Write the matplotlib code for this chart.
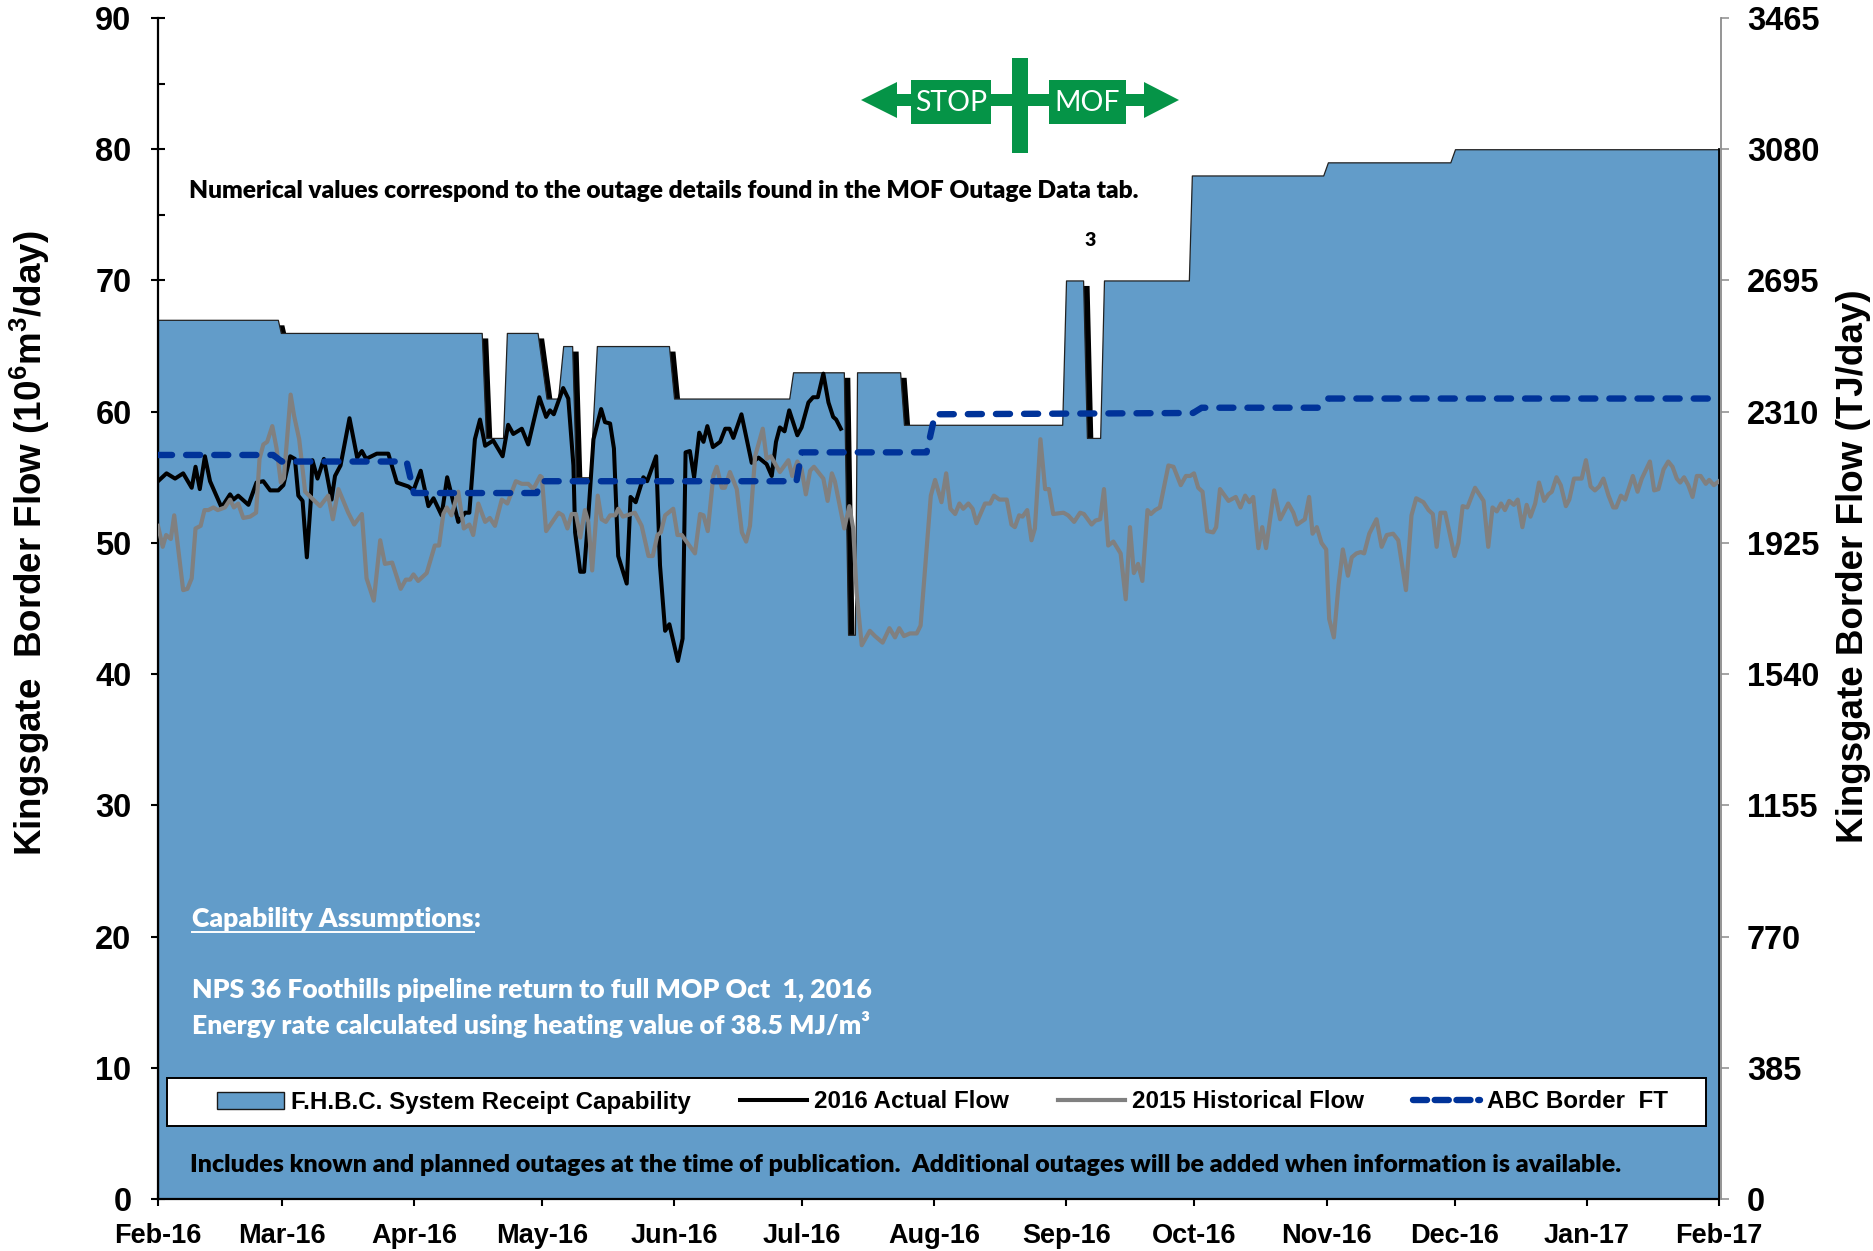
import matplotlib
matplotlib.use("Agg")
import matplotlib.pyplot as plt
import pandas as pd
from matplotlib.lines import Line2D
from matplotlib.patches import Patch, Polygon, Rectangle
from matplotlib.transforms import Affine2D
from matplotlib.ticker import MultipleLocator

W, H = 1873, 1251
START = pd.Timestamp("2016-02-01")

cap_days = [0,28.1,28.8,75.9,76.9,80.9,81.8,89.0,91.1,93.8,95,97.1,98,101.3,102.9,119.8,121,148,148.9,160.8,161.8,163.4,163.9,174,174.9,212,212.9,216.9,217.8,220.9,221.8,241.7,242.4,273.2,274.3,303,304.1,366]
cap_vals = [67,67,66,66,58,58,66,66,61,61,65,65,55,55,65,65,61,61,63,63,43,43,63,63,59,59,70,70,58,58,70,70,78,78,79,79,80,80]

actual_days = [0,2,4,5.9,7.9,8.8,9.8,11,12.2,14.9,16.9,17.7,18.8,21.2,23.1,24.7,26.3,28.2,29.4,31,32.1,32.9,33.9,34.9,35.8,36.2,37.4,38.9,40.7,41.5,42.8,44.9,46.7,47.8,48.8,51.3,54,56,58.7,59.9,61.6,63.4,64.6,66.5,67.8,70.4,72,73,74.3,75.5,76.7,78.6,80.8,82.1,83.3,85.3,86.8,89.4,91,91.9,92.8,95,96.2,97.4,97.8,99,99.9,100.9,102.1,103.9,104.8,106,106.9,107.9,109.9,110.8,112,113.8,114.7,116.8,117.7,118.9,119.9,121.9,123,123.7,124.7,125.7,126.9,127.9,128.8,130.1,131.8,133,134,134.9,136.8,139.2,140.8,142.7,143.9,144.9,145.8,146.9,148,149.9,150.9,152.5,153.6,154.7,156,157.2,158.3,159,160.1]
actual_vals = [54.7,55.3,54.9,55.3,54.2,55.8,54.1,56.6,54.7,52.7,53.7,53.3,53.6,52.9,54.6,54.7,54.0,54,54.4,56.6,56.4,53.6,53.2,48.9,53.1,56.3,54.9,56.4,53.3,55.1,55.9,59.5,56.5,57,56.4,56.8,56.8,54.6,54.3,54,55.5,52.8,53.4,52.1,55,51.6,52.3,52.3,57.9,59.4,57.4,57.8,56.6,59,58.3,58.7,57.5,61.1,59.6,60.1,59.8,61.8,61,55.9,50.8,47.8,47.8,52.1,57.9,60.2,59.2,59.1,57.2,49,46.9,53.5,53.1,55,54.7,56.6,48.3,43.3,43.8,41,42.7,56.9,57,55,58.4,57.7,58.9,57.3,57.7,58.7,58.7,58,59.8,56.1,56.5,56,55.1,57.7,58.8,58.5,60.1,58.2,58.8,60.7,61.1,61.1,62.9,60.7,59.6,59.4,58.7]

hist_days = [0,1.1,1.9,3,3.8,5.9,6.9,7.9,8.8,10,10.9,11.8,13,14,15.7,16.9,17.8,18.8,20,21.6,23,23.8,24.7,25.6,26.8,27.8,28.8,29.5,31.1,31.9,33.1,34.5,36.4,38,39.9,41,42.3,44.6,46,47.8,48.9,50.6,52.1,53.2,54.9,56.9,58.1,59.1,59.9,61,63,64.9,65.9,66.9,67.7,68.8,70.4,71.7,73,73.9,75.1,76.7,77.8,79,80.6,81.9,83.9,85.3,86.8,88,89.6,90,91,93.9,94.9,96,97,98,99,100.1,100.9,101.8,103.1,104,105,106,107.2,107.9,109,111.8,113.4,115,116,117.1,117.9,118.9,120.8,121.8,122.8,125.9,127.1,127.9,128.9,130.2,131,132.2,132.9,134.1,135.7,136.9,137.9,138.8,140,141.8,142.7,143.7,145.8,147.8,148.7,149.9,150.9,151.9,152.9,153.8,156,157,158,158.7,160.9,162.1,163,163.8,165,166.9,168.1,169.9,171.5,172.8,173.8,174.9,176.3,177.9,178.8,180.2,181.2,182.2,183.7,184.8,185.8,186.9,187.9,188.8,190,191,191.9,193.9,195.1,196,197.3,199,200.1,200.9,201.9,202.7,203.8,204.8,205.6,206.9,208,208.9,209.9,212.3,213.4,214.8,216.2,217.1,218.9,219.8,220.9,221.8,222.8,224,225.7,226.9,227.9,228.8,229.8,230.8,232,232.8,233.8,234.9,236.9,238.1,239.8,241,242,242.9,243.9,244.9,246,247.4,248.1,249,251,252.7,253.8,254.9,255.9,256.8,258,258.9,259.8,261.7,263.1,265,266.2,267.1,268.9,269.9,270.7,271.7,272.8,273.9,274.6,275.7,276.8,277.8,279,279.9,281,282,282.8,284,285.7,286.9,288.1,289.6,290.8,292.6,293.9,295,296.7,297.9,298.9,299.8,300.7,301.8,304,304.9,305.9,307,308.8,310.8,311.9,312.9,313.9,314.9,315.8,316.8,317.9,318.8,319.9,320.9,321.8,322.9,323.8,325,326,326.8,327.9,328.9,330.1,330.9,332,333.8,334.8,335.9,336.9,337.9,338.9,340.1,341.2,341.9,343,344,344.7,345.8,346.9,347.9,349.8,350.8,351.8,353,354.1,355.1,356.1,356.9,357.8,358.8,359.8,360.8,361.7,362.9,363.7,364.8,366]
hist_vals = [51.3,49.7,50.6,50.3,52.1,46.4,46.5,47.3,51.1,51.3,52.5,52.5,52.7,52.5,52.7,53.3,52.7,53,51.9,52,52.3,56.4,57.5,57.7,58.9,57.2,54.6,54.9,61.3,59.7,57.9,53.9,53.3,52.8,53.6,51.8,54.1,52.3,51.4,52.2,47.3,45.6,50.2,48.4,48.5,46.5,47.2,47.2,47.6,47.1,47.7,49.8,49.8,52.2,52.7,52.1,53.9,51.1,51.4,50.6,53,51.6,51.9,51.3,53.3,53,54.7,54.5,54.5,54.1,55.1,55,50.9,52.3,52.1,51.1,52.2,52.2,50.4,52.5,51.6,47.9,53.6,51.8,51.6,52.1,52.1,52.6,52,52.3,51.3,49,49,50.6,50.8,52.1,52.6,50.6,50.6,49.2,52.2,52.1,50.9,55.1,55.8,54.2,54.2,55.4,54.1,50.8,50.1,51.3,56.6,58.7,56.4,56.6,55.4,56.3,55.1,56.2,55.6,53.7,55.5,55.8,54.9,53.2,55.3,54.7,51.1,52.8,51.1,46.2,42.2,43.3,42.9,42.4,43.5,42.8,43.5,42.9,43.1,43.1,43.7,49.5,53.6,54.8,53.1,55.3,52.6,52.2,53,52.6,53,52.6,51.5,53,53,53.6,53.3,53.3,51.4,51.2,52.1,52,52.5,50.2,51.1,57.9,54.1,54.1,52.2,52.3,52.1,51.6,52.3,52.2,51.4,51.7,51.8,54.1,49.8,50.1,49.2,45.7,51.2,47.7,48.4,47.1,52.5,52.2,52.5,52.7,55.9,55.8,54.4,55.1,55.1,55.3,54.2,53.9,50.9,50.8,51.2,54.1,53.2,53.5,52.7,53.6,53.1,53.5,49.6,51.2,49.6,54,51.8,53,52.3,51.4,51.8,53.5,50.7,51.2,50,49.5,44.2,42.8,46.8,49.5,47.5,48.9,49.2,49.3,49.2,50.7,51.8,49.7,50.6,50.7,50.2,46.4,52.1,53.4,53.1,52.5,52.2,49.7,52.3,52.3,49,50,52.8,52.7,54.2,53.2,49.7,52.7,52.4,53,52.5,53.2,52.9,53.3,51.2,52.9,52,53,54.6,53.2,53.7,53.9,55,54.4,52.8,53.3,54.9,54.9,56.3,54.3,54,54.3,54.9,53.6,52.7,52.7,53.6,53.3,54,55.1,53.9,54.9,56.2,54,54.1,55.6,56.2,55.8,54.9,54.6,55,54.4,53.5,55.1,55.1,54.5,54.8,54.4,54.7]

ft_days = [0,27,29,58.3,60,88.8,90,149.7,150.9,180.2,182.2,242.7,244.7,272,274.4,366]
ft_vals = [56.7,56.7,56.2,56.2,53.8,53.8,54.7,54.7,56.9,56.9,59.8,59.9,60.3,60.3,61,61]

month_labels = ["Feb-16","Mar-16","Apr-16","May-16","Jun-16","Jul-16","Aug-16","Sep-16","Oct-16","Nov-16","Dec-16","Jan-17","Feb-17"]
left_ticks = [0,10,20,30,40,50,60,70,80,90]
right_ticks = [0,385,770,1155,1540,1925,2310,2695,3080,3465]

BLUE = "#629CC9"
GREEN = "#059447"
SANS = "Liberation Sans"
BODY = "Lato"

plt.rcParams["font.family"] = [SANS, "DejaVu Sans"]
plt.rcParams["mathtext.fontset"] = "custom"
plt.rcParams["mathtext.bf"] = "Liberation Sans:bold"
plt.rcParams["mathtext.rm"] = "Liberation Sans:bold"

AX_L, AX_R, AX_T, AX_B = 158, 1719, 18, 1199
AX_W, AX_H = AX_R - AX_L, AX_B - AX_T


def dates(days):
    return START + pd.to_timedelta(days, unit="D")


def fx(px):
    return px / W


def fy(py):
    return 1 - py / H


fig = plt.figure(figsize=(W / 100, H / 100), dpi=100, facecolor="white")
ax = fig.add_axes([fx(AX_L), fy(AX_B), AX_W / W, AX_H / H])

cap_x, act_x, hist_x, ft_x = map(dates, (cap_days, actual_days, hist_days, ft_days))

shadow = ax.transData + Affine2D().translate(6, -5)
ax.fill_between(cap_x, cap_vals, 0, color="black", lw=0, transform=shadow, zorder=1)
ax.fill_between(cap_x, cap_vals, 0, facecolor=BLUE, edgecolor="#222222", lw=0.9, zorder=2,
                label="F.H.B.C. System Receipt Capability")
ax.plot(act_x, actual_vals, color="black", lw=2.9, solid_joinstyle="round", zorder=3, label="2016 Actual Flow")
ax.plot(hist_x, hist_vals, color="#808080", lw=3.0, solid_joinstyle="round", zorder=4, label="2015 Historical Flow")
ax.plot(ft_x, ft_vals, color="#003399", lw=4.6, linestyle=(0, (2.2, 2.2)), dash_capstyle="round",
        dash_joinstyle="round", zorder=5, label="ABC Border  FT")

months = pd.date_range(START, periods=len(month_labels), freq="MS")
ax.set_xlim(months[0], months[-1])
ax.set_ylim(left_ticks[0], left_ticks[-1])
ax.set_xticks(months)
ax.set_xticklabels(month_labels)
ax.set_yticks(left_ticks)
ax.yaxis.set_minor_locator(MultipleLocator(5))

ax.spines["top"].set_visible(False)
ax.spines["right"].set_linewidth(1.3)
ax.spines["right"].set_bounds(0, cap_vals[-1])
for s in ("left", "bottom"):
    ax.spines[s].set_linewidth(1.6)
ax.tick_params(axis="x", which="major", direction="inout", length=10, width=1.5, pad=12, labelsize=19.5)
ax.tick_params(axis="y", which="major", direction="inout", length=10, width=1.5, pad=14, labelsize=23.5)
ax.tick_params(axis="y", which="minor", direction="in", length=5, width=1.5)
for lab in ax.get_xticklabels() + ax.get_yticklabels():
    lab.set_fontweight("bold")
ax.set_ylabel("Kingsgate  Border Flow (10$\\mathbf{^6}$m$\\mathbf{^3}$/day)", fontsize=26.5, fontweight="bold")
ax.yaxis.set_label_coords((52 - AX_L) / AX_W, 0.555)

ax2 = ax.twinx()
ax2.set_ylim(right_ticks[0], right_ticks[-1])
ax2.set_yticks(right_ticks)
ax2.patch.set_visible(False)
for s in ("top", "left", "bottom"):
    ax2.spines[s].set_visible(False)
ax2.spines["right"].set_color("#8c8c8c")
ax2.spines["right"].set_linewidth(1.3)
ax2.spines["right"].set_position(("outward", 1.5))
ax2.tick_params(axis="y", direction="out", length=6, width=1.1, color="#8c8c8c", pad=12.5, labelsize=23.5)
for lab in ax2.get_yticklabels():
    lab.set_fontweight("bold")
ax2.set_ylabel("Kingsgate Border Flow (TJ/day)", fontsize=26.5, fontweight="bold", rotation=90)
ax2.yaxis.set_label_coords((1836 - AX_L) / AX_W, 0.536)

handles = [
    Patch(facecolor=BLUE, edgecolor="#1a1a1a", lw=1),
    Line2D([], [], color="black", lw=2.9),
    Line2D([], [], color="#808080", lw=3.0),
    Line2D([], [], color="#003399", lw=4.6, linestyle=(0, (2.2, 1.2)), dash_capstyle="round"),
]
labels = ["F.H.B.C. System Receipt Capability", "2016 Actual Flow", "2015 Historical Flow", "ABC Border  FT"]
ax2.set_zorder(ax.get_zorder() + 1)

box_l, box_r, box_t, box_b = 167, 1706, 1078, 1126
ax2.add_patch(Rectangle(((box_l - AX_L) / AX_W, (AX_B - box_b) / AX_H), (box_r - box_l) / AX_W, (box_b - box_t) / AX_H,
                        transform=ax2.transAxes, facecolor="white", edgecolor="black", lw=1.4, zorder=6))
leg = ax2.legend(
    handles, labels, ncols=4, loc="center left",
    bbox_to_anchor=((217 - AX_L) / AX_W, (AX_B - box_b) / AX_H, (1668 - 217) / AX_W, (box_b - box_t) / AX_H),
    mode="expand", frameon=False, borderaxespad=0, borderpad=0,
    handlelength=2.77, handletextpad=0.3, columnspacing=1.6,
    prop={"family": SANS, "weight": "bold", "size": 17.4},
)
leg.set_zorder(7)

# Green STOP / MOF sign (decoration placed in figure pixels)
sign = [
    Polygon([(fx(861), fy(100)), (fx(897), fy(82)), (fx(897), fy(118))]),
    Polygon([(fx(1179), fy(100)), (fx(1144), fy(82)), (fx(1144), fy(118))]),
    Rectangle((fx(890), fy(106)), (1150 - 890) / W, 12 / H),
    Rectangle((fx(911), fy(124)), 80 / W, 44 / H),
    Rectangle((fx(1049), fy(124)), 77 / W, 44 / H),
    Rectangle((fx(1012), fy(153)), 16 / W, 95 / H),
]
for p in sign:
    p.set(facecolor=GREEN, edgecolor="none", transform=fig.transFigure, zorder=6)
    fig.add_artist(p)


def note(x, y, s, color="black", size=17.64, weight="heavy", family=BODY, ha="left"):
    return fig.text(fx(x), fy(y), s, color=color, fontsize=size, fontweight=weight,
                    family=[family, "DejaVu Sans"], ha=ha, va="center", zorder=7)


WHITE_SIZE = 19.1
note(951, 103, "STOP", "white", 20.5, "normal", ha="center")
note(1087, 103, "MOF", "white", 20.5, "normal", ha="center")
note(189, 191, "Numerical values correspond to the outage details found in the MOF Outage Data tab.")
note(1090, 240, "3", size=14, ha="center")
cap = note(192, 919, "Capability Assumptions", "white", WHITE_SIZE)
fig.canvas.draw()
bb = cap.get_window_extent(fig.canvas.get_renderer())
note(bb.x1, 919, ":", "white", WHITE_SIZE)
fig.add_artist(Line2D([fx(bb.x0), fx(bb.x1)], [fy(932), fy(932)], color="white", lw=1.4,
                      transform=fig.transFigure, zorder=7))
note(192, 990, "NPS 36 Foothills pipeline return to full MOP Oct  1, 2016", "white", WHITE_SIZE)
note(192, 1025, "Energy rate calculated using heating value of 38.5 MJ/m³", "white", WHITE_SIZE)
note(190, 1165, "Includes known and planned outages at the time of publication.  Additional outages will be added when information is available.", size=17.98)

fig.savefig("out.png", dpi=100, facecolor="white")
